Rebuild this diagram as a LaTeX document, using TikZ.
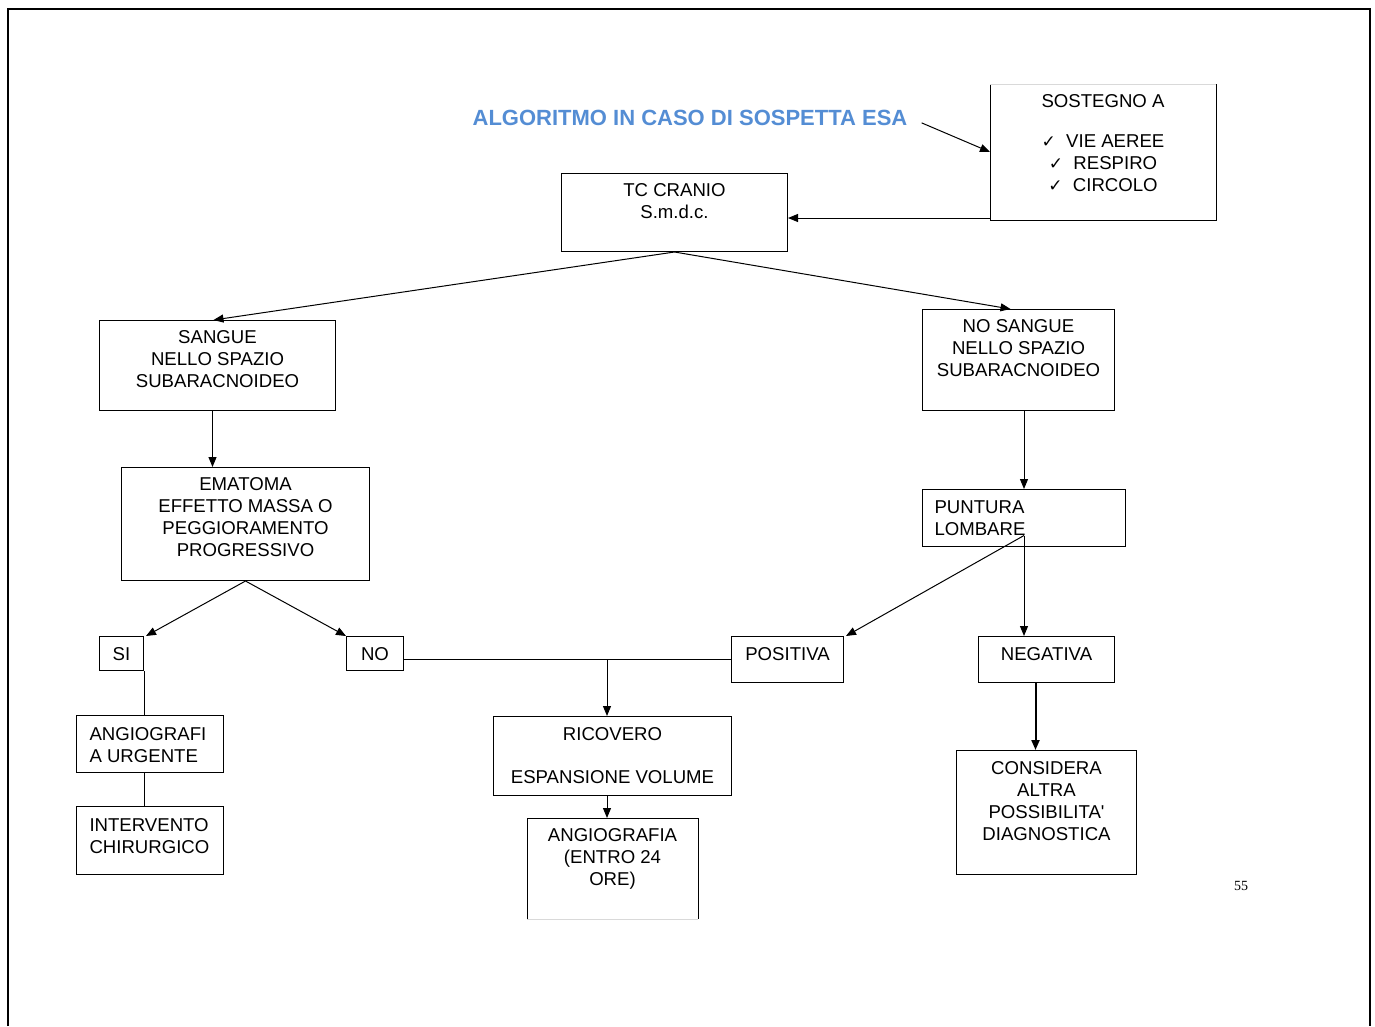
\documentclass[tikz,border=0pt]{standalone}
\usepackage{fontspec}
\setmainfont{Liberation Sans}
\newfontfamily\chkfont{DejaVu Sans}
\newfontfamily\pagefont{Liberation Serif}
\usetikzlibrary{arrows.meta,positioning}
\definecolor{titleblue}{RGB}{84,141,212}
\newcommand{\chk}{{\chkfont\fontsize{17}{22}\selectfont ✓}\ \ }

\begin{document}
\begin{tikzpicture}[x=1pt,y=-1pt,line width=1pt,>={Triangle[length=10pt,width=8pt]},
  frame/.style={rectangle,inner sep=0pt,anchor=north west},
  box/.style={frame,draw},
  txt/.style={inner sep=0pt,align=center,font=\fontsize{18.6}{22}\selectfont},
  ltxt/.style={txt,align=left}]
  \useasboundingbox (0,0) rectangle (1375,1026);
  \draw[line width=2.5pt] (8,1026) -- (8,9) -- (1370,9) -- (1370,1026);

  % titolo
  \node[inner sep=0pt,text=titleblue,font=\bfseries\fontsize{22}{26}\selectfont] (title) at (690,118) {ALGORITMO IN CASO DI SOSPETTA ESA};

  % riquadri
  \node[frame,minimum width=225pt,minimum height=135pt] (sost) at (990,84) {};
  \node[box,minimum width=226pt,minimum height=78pt] (tc) at (561,173) {};
  \node[box,minimum width=236pt,minimum height=90pt] (sangue) at (99,320) {};
  \node[box,minimum width=192pt,minimum height=101pt] (nos) at (922,309) {};
  \node[box,minimum width=248pt,minimum height=113pt] (ematoma) at (121,467) {};
  \node[box,minimum width=203pt,minimum height=57pt] (punt) at (922,489) {};
  \node[box,minimum width=44pt,minimum height=34pt] (si) at (99,636) {};
  \node[box,minimum width=57pt,minimum height=34pt] (no) at (346,636) {};
  \node[box,minimum width=112pt,minimum height=46pt] (pos) at (731,636) {};
  \node[box,minimum width=136pt,minimum height=46pt] (neg) at (978,636) {};
  \node[box,minimum width=147pt,minimum height=57pt] (angiou) at (76,715) {};
  \node[box,minimum width=147pt,minimum height=68pt] (interv) at (76,806) {};
  \node[box,minimum width=238pt,minimum height=79pt] (ricov) at (493,716) {};
  \node[frame,minimum width=170pt,minimum height=100pt] (angio) at (527,818) {};
  \node[box,minimum width=180pt,minimum height=124pt] (cons) at (956,750) {};

  % bordi aperti
  \draw (sost.north west) -- (sost.south west) -- (sost.south east) -- (sost.north east);
  \draw[gray!30,line width=0.6pt] (sost.north west) -- (sost.north east);
  \draw (angio.south west) -- (angio.north west) -- (angio.north east) -- (angio.south east);
  \draw[gray!30,line width=0.6pt] (angio.south west) -- (angio.south east);

  % testi
  \node[txt,below=10.5pt of sost.north] (sostt) {SOSTEGNO A\\[18pt]\chk VIE AEREE\\\chk RESPIRO\\\chk CIRCOLO};
  \node[txt,below=10.5pt of tc.north] (tct) {TC CRANIO\\S.m.d.c.};
  \node[txt,below=10.5pt of sangue.north] (sanguet) {SANGUE\\NELLO SPAZIO\\SUBARACNOIDEO};
  \node[txt,below=10.5pt of nos.north] (nost) {NO SANGUE\\NELLO SPAZIO\\SUBARACNOIDEO};
  \node[txt,below=10.5pt of ematoma.north] (ematomat) {EMATOMA\\EFFETTO MASSA O\\PEGGIORAMENTO\\PROGRESSIVO};
  \node[ltxt,below right=11.5pt and 12pt of punt.north west] (puntt) {PUNTURA\\LOMBARE};
  \node[txt,below=11.5pt of si.north] (sit) {SI};
  \node[txt,below=11.5pt of no.north] (not) {NO};
  \node[txt,below=11.5pt of pos.north] (post) {POSITIVA};
  \node[txt,below=11.5pt of neg.north] (negt) {NEGATIVA};
  \node[ltxt,below right=11.5pt and 13pt of angiou.north west] (angiout) {ANGIOGRAFI\\A URGENTE};
  \node[ltxt,below right=11.5pt and 13pt of interv.north west] (intervt) {INTERVENTO\\CHIRURGICO};
  \node[txt,below=10.5pt of ricov.north] (ricovt) {RICOVERO\\[21pt]ESPANSIONE VOLUME};
  \node[txt,below=9.5pt of angio.north] (angiot) {ANGIOGRAFIA\\(ENTRO 24\\ORE)};
  \node[txt,below=10.5pt of cons.north] (const) {CONSIDERA\\ALTRA\\POSSIBILITA\textquotesingle\\DIAGNOSTICA};
  \node[inner sep=0pt,font=\pagefont\fontsize{14}{16}\selectfont] (pagenum) at (1241,886) {55};

  % frecce
  \draw[->,shorten <=15pt] ([yshift=1pt]title.east) -- (sost.west);
  \draw[->] ([yshift=2pt]sost.south west) -- ([yshift=2pt]sost.south west -| tc.east);
  \draw[->] (tc.south) -- ([xshift=-4pt]sangue.north);
  \draw[->] (tc.south) -- ([xshift=-8pt]nos.north);
  \draw[->] ([xshift=-5pt]sangue.south) -- ([xshift=-5pt]sangue.south |- ematoma.north);
  \draw[->] (ematoma.south) -- ([xshift=2pt]si.north east);
  \draw[->] (ematoma.south) -- (no.north west);
  \draw (si.south east) -- (si.south east |- angiou.north);
  \draw (si.east |- angiou.south) -- (si.east |- interv.north);
  \draw (no.east |- pos.west) -- (pos.west);
  \coordinate (split) at (607,659);
  \draw[->] (split) -- (split |- ricov.north);
  \draw[->] (split |- ricov.south) -- (split |- angio.north);
  \draw[->] (punt.north |- nos.south) -- (punt.north);
  \coordinate (pl) at ([yshift=-17.5pt]punt.center);
  \draw[->] (pl) -- ([xshift=2pt]pos.north east);
  \draw[->] (pl) -- (pl |- neg.north);
  \draw[->,line width=2pt] ([xshift=-11pt]neg.south) -- ([xshift=-11pt]neg.south |- cons.north);
\end{tikzpicture}
\end{document}
